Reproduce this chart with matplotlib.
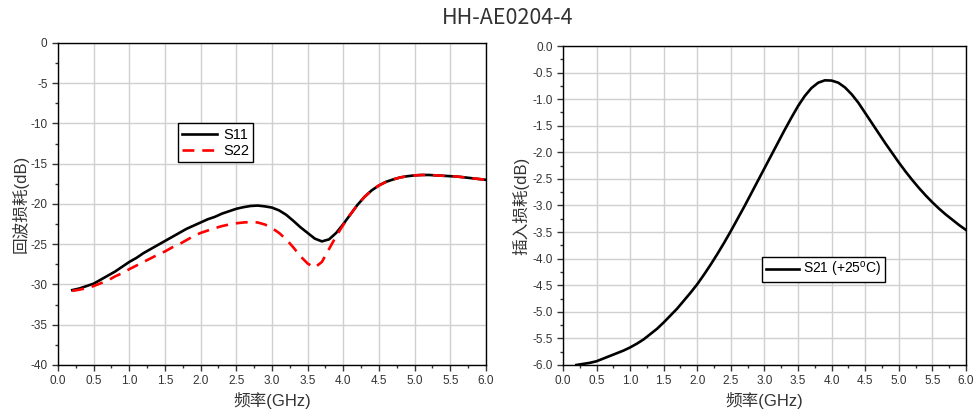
import matplotlib
matplotlib.use("Agg")
import matplotlib.pyplot as plt
from matplotlib.ticker import MultipleLocator, FormatStrFormatter

plt.rcParams["font.family"] = ["Liberation Sans", "Noto Sans CJK SC", "DejaVu Sans"]
plt.rcParams["axes.unicode_minus"] = False
plt.rcParams["mathtext.fontset"] = "custom"
plt.rcParams["mathtext.rm"] = "Liberation Sans"

# ---------------------------------------------------------------------
# données (GHz / dB)
freq = [round(0.2 + 0.1 * i, 1) for i in range(59)]

s11 = [-30.7, -30.5, -30.2, -29.9, -29.4, -28.9, -28.4, -27.8, -27.2, -26.7,
       -26.1, -25.6, -25.1, -24.6, -24.1, -23.6, -23.1, -22.7, -22.3, -21.9,
       -21.6, -21.2, -20.9, -20.6, -20.4, -20.25, -20.2, -20.3, -20.45, -20.8,
       -21.35, -22.1, -22.9, -23.6, -24.3, -24.65, -24.4, -23.6, -22.5, -21.3,
       -20.1, -19.1, -18.3, -17.7, -17.25, -16.95, -16.7, -16.55, -16.45, -16.4,
       -16.4, -16.45, -16.5, -16.55, -16.6, -16.7, -16.8, -16.9, -17.0]

s22 = [-30.8, -30.65, -30.45, -30.2, -29.85, -29.5, -29.0, -28.6, -28.1, -27.65,
       -27.2, -26.75, -26.3, -25.9, -25.4, -25.0, -24.5, -24.0, -23.6, -23.3,
       -23.0, -22.75, -22.55, -22.4, -22.3, -22.25, -22.3, -22.55, -23.0, -23.6,
       -24.4, -25.4, -26.5, -27.4, -27.9, -27.2, -25.6, -24.0, -22.6, -21.3,
       -20.1, -19.1, -18.3, -17.7, -17.25, -16.95, -16.7, -16.55, -16.45, -16.4,
       -16.4, -16.45, -16.5, -16.55, -16.6, -16.7, -16.8, -16.9, -17.0]

s21 = [-6.0, -5.98, -5.96, -5.93, -5.88, -5.83, -5.78, -5.73, -5.67, -5.6,
       -5.52, -5.42, -5.32, -5.2, -5.07, -4.94, -4.79, -4.64, -4.48, -4.30,
       -4.11, -3.91, -3.70, -3.48, -3.25, -3.02, -2.78, -2.54, -2.30, -2.06,
       -1.82, -1.58, -1.35, -1.13, -0.94, -0.79, -0.69, -0.645, -0.65, -0.69,
       -0.78, -0.91, -1.07, -1.26, -1.45, -1.64, -1.83, -2.01, -2.19, -2.36,
       -2.52, -2.67, -2.81, -2.94, -3.06, -3.17, -3.27, -3.37, -3.46]

TITLE = "HH-AE0204-4"
XLABEL = "频率(GHz)"
YLABEL_L = "回波损耗(dB)"
YLABEL_R = "插入损耗(dB)"

TXT = "#333333"


def style_axes(ax):
    ax.grid(True, which="major", color="#d0d0d0", linewidth=1.0)
    ax.set_axisbelow(True)
    ax.tick_params(which="both", direction="out", top=False, right=False,
                   labelsize=8.5, colors=TXT)
    ax.tick_params(which="major", length=4, width=1)
    ax.tick_params(which="minor", length=2.5, width=1)
    for sp in ax.spines.values():
        sp.set_linewidth(1.0)
    ax.xaxis.set_major_locator(MultipleLocator(0.5))
    ax.xaxis.set_minor_locator(MultipleLocator(0.25))
    ax.xaxis.set_major_formatter(FormatStrFormatter("%.1f"))
    ax.set_xlim(0, 6)
    ax.set_xlabel(XLABEL, fontsize=12, color=TXT, labelpad=3)


fig = plt.figure(figsize=(9.76, 4.11), dpi=100)
fig.text(0.52, 0.957, TITLE, ha="center", va="center", fontsize=15.5,
         family=["Noto Sans CJK SC", "DejaVu Sans"], color=TXT)

# --- panneau gauche : S11 / S22
ax1 = fig.add_axes([0.0594, 0.112, 0.4385, 0.7835])
ax1.plot(freq, s11, color="black", linewidth=1.9, label="S11")
ax1.plot(freq, s22, color="red", linewidth=1.9, dashes=(4.5, 3), label="S22")
style_axes(ax1)
ax1.set_ylim(-40, 0)
ax1.yaxis.set_major_locator(MultipleLocator(5))
ax1.yaxis.set_minor_locator(MultipleLocator(2.5))
ax1.set_ylabel(YLABEL_L, fontsize=12, color=TXT, labelpad=1)
ax1.legend(loc="upper left", bbox_to_anchor=(0.28, 0.75), fancybox=False,
           edgecolor="black", framealpha=1, fontsize=10.5, handlelength=2.4,
           borderpad=0.3, labelspacing=0.15, handletextpad=0.4,
           borderaxespad=0)

# --- panneau droit : S21
ax2 = fig.add_axes([0.5768, 0.112, 0.4129, 0.776])
ax2.plot(freq, s21, color="black", linewidth=1.9, label="S21 (+25$^{\\mathrm{o}}$C)")
style_axes(ax2)
ax2.set_ylim(-6, 0)
ax2.yaxis.set_major_locator(MultipleLocator(0.5))
ax2.yaxis.set_minor_locator(MultipleLocator(0.25))
ax2.yaxis.set_major_formatter(FormatStrFormatter("%.1f"))
ax2.set_ylabel(YLABEL_R, fontsize=12, color=TXT, labelpad=2)
ax2.legend(loc="upper left", bbox_to_anchor=(0.494, 0.34), fancybox=False,
           edgecolor="black", framealpha=1, fontsize=10, handlelength=2.4,
           borderpad=0.25, handletextpad=0.3, borderaxespad=0)

fig.savefig("out.png", dpi=100)
